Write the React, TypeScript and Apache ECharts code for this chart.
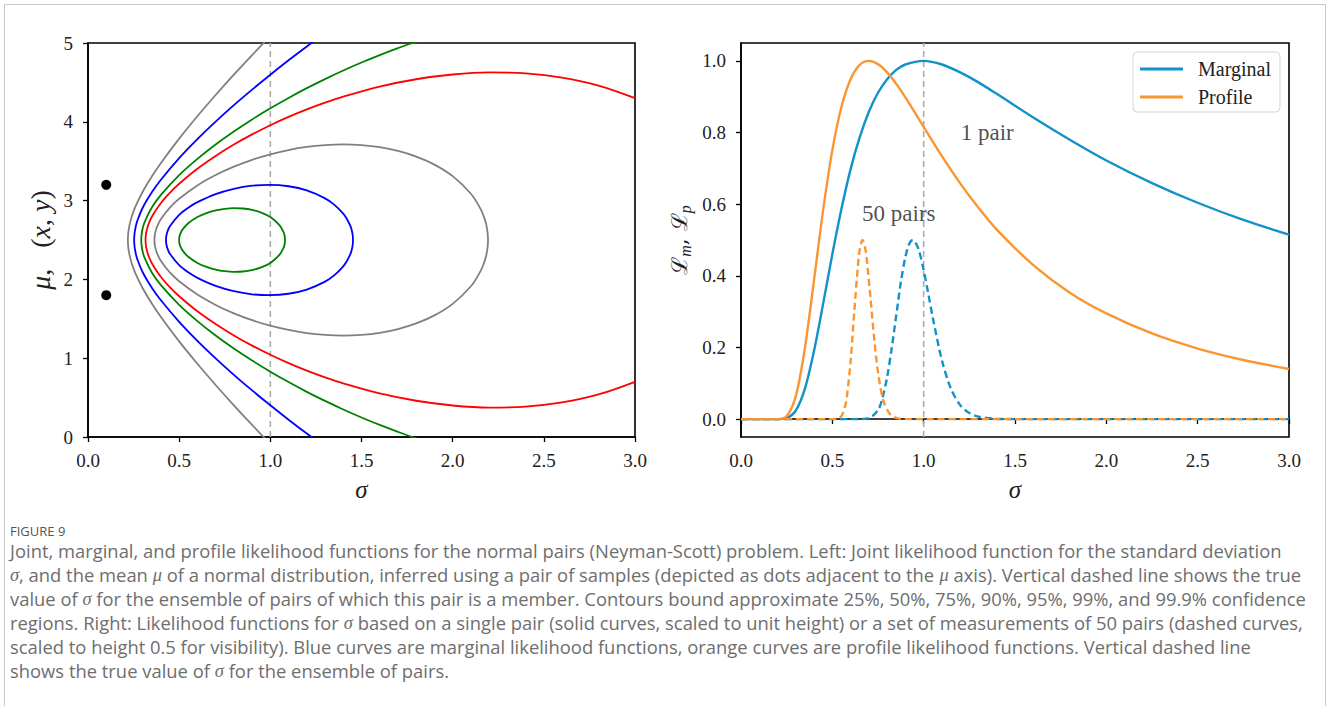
import React, { useEffect, useRef } from "react";
import * as echarts from "echarts";

// ---------- Left panel: joint likelihood contours, rows are [sigma, muUpper, muLower] ----------
const contour25: number[][] = [
  [0.4998, 2.5, 2.5], [0.5018, 2.544, 2.456], [0.5078, 2.588, 2.412], [0.52, 2.638, 2.362],
  [0.55, 2.713, 2.287], [0.6, 2.791, 2.209], [0.65, 2.842, 2.158], [0.7, 2.876, 2.124],
  [0.75, 2.896, 2.104], [0.8, 2.904, 2.096], [0.85, 2.9, 2.1], [0.9, 2.882, 2.118],
  [0.95, 2.848, 2.152], [1.0, 2.791, 2.209], [1.05, 2.689, 2.311], [1.0725, 2.6, 2.4],
  [1.0785, 2.55, 2.45], [1.0805, 2.5, 2.5],
];
const contour50: number[][] = [
  [0.4277, 2.5, 2.5], [0.4297, 2.554, 2.446], [0.4357, 2.607, 2.393], [0.45, 2.678, 2.322],
  [0.5, 2.819, 2.181], [0.55, 2.91, 2.09], [0.6, 2.98, 2.02], [0.7, 3.083, 1.917],
  [0.8, 3.15, 1.85], [0.9, 3.189, 1.811], [1.0, 3.2, 1.8], [1.1, 3.182, 1.818],
  [1.2, 3.129, 1.871], [1.3, 3.028, 1.972], [1.35, 2.949, 2.051], [1.4, 2.834, 2.166],
  [1.42, 2.767, 2.233], [1.44, 2.672, 2.328], [1.4454, 2.634, 2.366], [1.4514, 2.567, 2.433],
  [1.4534, 2.5, 2.5],
];
const contour75: number[][] = [
  [0.3643, 2.5, 2.5], [0.3663, 2.563, 2.437], [0.3723, 2.625, 2.375], [0.38, 2.676, 2.324],
  [0.4, 2.766, 2.234], [0.45, 2.915, 2.085], [0.5, 3.024, 1.976], [0.6, 3.193, 1.807],
  [0.7, 3.324, 1.676], [0.8, 3.431, 1.569], [0.9, 3.518, 1.482], [1.0, 3.588, 1.412],
  [1.1, 3.642, 1.358], [1.2, 3.681, 1.319], [1.3, 3.704, 1.296], [1.4, 3.713, 1.287],
  [1.5, 3.704, 1.296], [1.6, 3.678, 1.322], [1.7, 3.63, 1.37], [1.8, 3.559, 1.441],
  [1.9, 3.457, 1.543], [2.0, 3.31, 1.69], [2.1, 3.087, 1.913], [2.15, 2.908, 2.092],
  [2.17, 2.803, 2.197], [2.18, 2.731, 2.269], [2.1857, 2.678, 2.322], [2.1917, 2.589, 2.411],
  [2.1937, 2.5, 2.5],
];
const contour90: number[][] = [
  [0.3157, 2.5, 2.5], [0.3177, 2.57, 2.43], [0.3237, 2.64, 2.36], [0.33, 2.689, 2.311],
  [0.35, 2.795, 2.205], [0.4, 2.97, 2.03], [0.45, 3.102, 1.898], [0.5, 3.214, 1.786],
  [0.6, 3.405, 1.595], [0.7, 3.567, 1.433], [0.8, 3.711, 1.289], [0.9, 3.84, 1.16],
  [1.0, 3.957, 1.043], [1.1, 4.062, 0.938], [1.2, 4.157, 0.843], [1.3, 4.243, 0.757],
  [1.4, 4.319, 0.681], [1.6, 4.447, 0.553], [1.8, 4.54, 0.46], [2.0, 4.6, 0.4],
  [2.2, 4.626, 0.374], [2.4, 4.614, 0.386], [2.6, 4.561, 0.439], [2.8, 4.46, 0.54],
  [3.0, 4.3, 0.7],
];
const contour95: number[][] = [
  [0.2921, 2.5, 2.5], [0.2941, 2.575, 2.425], [0.3001, 2.649, 2.351], [0.31, 2.725, 2.275],
  [0.35, 2.912, 2.088], [0.4, 3.073, 1.927], [0.5, 3.323, 1.677], [0.6, 3.529, 1.471],
  [0.7, 3.712, 1.288], [0.8, 3.877, 1.123], [0.9, 4.03, 0.97], [1.0, 4.171, 0.829],
  [1.1, 4.303, 0.697], [1.2, 4.427, 0.573], [1.3, 4.542, 0.458], [1.4, 4.651, 0.349],
  [1.5, 4.752, 0.248], [1.6, 4.847, 0.153], [1.7, 4.935, 0.065], [1.8, 5.017, -0.017],
  [2.0, 5.164, -0.164],
];
const contour99: number[][] = [
  [0.2532, 2.5, 2.5], [0.2552, 2.582, 2.418], [0.2612, 2.664, 2.336], [0.27, 2.74, 2.26],
  [0.3, 2.909, 2.091], [0.35, 3.105, 1.895], [0.4, 3.265, 1.735], [0.5, 3.539, 1.461],
  [0.6, 3.78, 1.22], [0.7, 4.002, 0.998], [0.8, 4.211, 0.789], [0.9, 4.409, 0.591],
  [1.0, 4.598, 0.402], [1.1, 4.78, 0.22], [1.2, 4.956, 0.044], [1.3, 5.125, -0.125],
];
const contour999: number[][] = [
  [0.2188, 2.5, 2.5], [0.2208, 2.59, 2.41], [0.2268, 2.68, 2.32], [0.24, 2.798, 2.202],
  [0.26, 2.923, 2.077], [0.3, 3.112, 1.888], [0.35, 3.305, 1.695], [0.4, 3.477, 1.523],
  [0.5, 3.787, 1.213], [0.6, 4.071, 0.929], [0.7, 4.34, 0.66], [0.8, 4.598, 0.402],
  [0.9, 4.847, 0.153], [1.0, 5.089, -0.089],
];
const contourColors = ["#008000", "#0000ff", "#808080", "#ff0000", "#008000", "#0000ff", "#808080"];

const sampleSigma = [0.1, 0.1];
const sampleMu = [1.8, 3.2];
const trueSigma = 1;

// ---------- Right panel: likelihoods for sigma ----------
const sigmaGrid = [0, 0.1, 0.2, 0.25, 0.3, 0.35, 0.4, 0.45, 0.5, 0.55, 0.6, 0.65, 0.7, 0.75, 0.8, 0.85, 0.9, 1.0, 1.1, 1.2, 1.3, 1.4, 1.6, 1.8, 2.0, 2.25, 2.5, 2.75, 3.0];
const marginal1 = [0, 0, 0, 0.003, 0.024, 0.085, 0.191, 0.323, 0.46, 0.587, 0.698, 0.787, 0.858, 0.911, 0.949, 0.975, 0.99, 1.0, 0.99, 0.968, 0.94, 0.908, 0.842, 0.78, 0.722, 0.659, 0.604, 0.556, 0.515];
const profile1 = [0, 0, 0, 0.008, 0.064, 0.199, 0.389, 0.585, 0.751, 0.872, 0.949, 0.989, 1.0, 0.991, 0.968, 0.936, 0.898, 0.816, 0.734, 0.658, 0.59, 0.529, 0.43, 0.353, 0.295, 0.239, 0.197, 0.165, 0.14];

const sigmaMarg50 = [0, 0.6, 0.65, 0.7, 0.75, 0.775, 0.8, 0.825, 0.85, 0.875, 0.9, 0.92, 0.94, 0.97, 1.0, 1.025, 1.05, 1.1, 1.15, 1.2, 1.25, 1.3, 1.4, 1.5, 3.0];
const marginal50 = [0, 0, 0.0001, 0.0024, 0.025, 0.06, 0.117, 0.198, 0.29, 0.382, 0.453, 0.488, 0.5, 0.477, 0.416, 0.351, 0.283, 0.164, 0.084, 0.039, 0.017, 0.007, 0.001, 0, 0];
const sigmaProf50 = [0, 0.5, 0.53, 0.55, 0.57, 0.58, 0.6, 0.62, 0.64, 0.65, 0.665, 0.68, 0.69, 0.71, 0.73, 0.75, 0.78, 0.82, 0.86, 0.9, 3.0];
const profile50 = [0, 0, 0.001, 0.008, 0.036, 0.064, 0.16, 0.299, 0.428, 0.474, 0.5, 0.477, 0.439, 0.332, 0.22, 0.131, 0.05, 0.011, 0.002, 0, 0];

const yTicksRight = [0, 0.2, 0.4, 0.6, 0.8, 1.0];
const annotations = [
  { text: "1 pair", sigma: 1.2, value: 0.8 },
  { text: "50 pairs", sigma: 0.66, value: 0.575 },
];

const captionHead = "FIGURE 9";
const captionLines = [
  "Joint, marginal, and profile likelihood functions for the normal pairs (Neyman-Scott) problem. Left: Joint likelihood function for the standard deviation",
  "{i|σ}, and the mean {i|μ} of a normal distribution, inferred using a pair of samples (depicted as dots adjacent to the {i|μ} axis). Vertical dashed line shows the true",
  "value of {i|σ} for the ensemble of pairs of which this pair is a member. Contours bound approximate 25%, 50%, 75%, 90%, 95%, 99%, and 99.9% confidence",
  "regions. Right: Likelihood functions for {i|σ} based on a single pair (solid curves, scaled to unit height) or a set of measurements of 50 pairs (dashed curves,",
  "scaled to height 0.5 for visibility). Blue curves are marginal likelihood functions, orange curves are profile likelihood functions. Vertical dashed line",
  "shows the true value of {i|σ} for the ensemble of pairs.",
];

const BLUE = "#1192c8";
const ORANGE = "#fa9632";
const SERIF = "'Liberation Serif', 'DejaVu Serif', serif";
const CAPTION_FONT = "'Open Sans', Lato, sans-serif";
const CAPTION_SIZE = 18;
const CAPTION_STRETCH = 1.022;

function contourPath(rows: number[][], closed: boolean): number[][] {
  const upper = rows.map((r) => [r[0], r[1]]);
  const lower = rows.map((r) => [r[0], r[2]]);
  if (closed) {
    return [...upper, ...lower.slice(0, -1).reverse()];
  }
  return [...lower.slice().reverse(), ...upper.slice(1)];
}

export default function App() {
  const ref = useRef<HTMLDivElement>(null);
  useEffect(() => {
    if (!ref.current) return;
    const chart = echarts.init(ref.current, undefined, { renderer: "svg" });

    const axisLine = { show: true, lineStyle: { color: "#000", width: 1.6 } };
    const axisTick = { show: true, length: 5, inside: false, lineStyle: { color: "#000", width: 1.3 } };
    const xTickLabel = { fontFamily: SERIF, fontSize: 19, color: "#222", margin: 14 };
    const yTickLabel = { fontFamily: SERIF, fontSize: 19, color: "#222", margin: 15 };
    const axisTitle = { fontFamily: SERIF, fontStyle: "italic", fontSize: 25, color: "#222" };

    const contours = [contour25, contour50, contour75, contour90, contour95, contour99, contour999];
    const contourSeries = contours.map((rows, i) => ({
      type: "line",
      name: "contour" + i,
      xAxisIndex: 0,
      yAxisIndex: 0,
      data: contourPath(rows, i < 3),
      showSymbol: false,
      smooth: 0.35,
      clip: true,
      silent: true,
      z: 3,
      lineStyle: { color: contourColors[i], width: 1.8 },
    }));

    const option: any = {
      animation: false,
      backgroundColor: "#fff",
      grid: [
        { left: 88, top: 43, width: 547, height: 394, show: true, borderColor: "#000", borderWidth: 1.6, backgroundColor: "transparent" },
        { left: 741, top: 43, width: 548, height: 394, show: true, borderColor: "#000", borderWidth: 1.6, backgroundColor: "transparent" },
      ],
      xAxis: [
        {
          type: "value", gridIndex: 0, min: 0, max: 3, interval: 0.5,
          axisLine, axisTick, splitLine: { show: false },
          axisLabel: { ...xTickLabel, formatter: (v: number) => v.toFixed(1) },
          name: "σ", nameLocation: "middle", nameGap: 40, nameTextStyle: axisTitle,
        },
        {
          type: "value", gridIndex: 1, min: 0, max: 3, interval: 0.5,
          axisLine, axisTick, splitLine: { show: false },
          axisLabel: { ...xTickLabel, formatter: (v: number) => v.toFixed(1) },
          name: "σ", nameLocation: "middle", nameGap: 40, nameTextStyle: axisTitle,
        },
      ],
      yAxis: [
        {
          type: "value", gridIndex: 0, min: 0, max: 5, interval: 1,
          axisLine, axisTick, splitLine: { show: false },
          axisLabel: { ...yTickLabel, formatter: (v: number) => String(v) },
          name: "{i|μ},   ({i|x}, {i|y})", nameLocation: "middle", nameGap: 34,
          nameTextStyle: {
            fontFamily: SERIF, fontSize: 28, color: "#222",
            rich: { i: { fontFamily: SERIF, fontStyle: "italic", fontSize: 28, color: "#222" } },
          },
        },
        {
          type: "value", gridIndex: 1, min: -0.05, max: 1.05,
          axisLine, splitLine: { show: false },
          axisTick: { ...axisTick, customValues: yTicksRight },
          axisLabel: { ...yTickLabel, customValues: yTicksRight, formatter: (v: number) => v.toFixed(1) },
          name: "{L|ℒ}{s|m}{L|, ℒ}{s|p}", nameLocation: "middle", nameGap: 48,
          nameTextStyle: {
            fontFamily: "'DejaVu Serif', serif", fontSize: 22, color: "#222",
            rich: {
              L: { fontFamily: "'DejaVu Serif', serif", fontSize: 22, color: "#222", lineHeight: 28 },
              s: { fontFamily: SERIF, fontStyle: "italic", fontSize: 16, color: "#222", verticalAlign: "bottom", lineHeight: 20 },
            },
          },
        },
      ],
      legend: {
        show: true,
        data: ["Marginal", "Profile"],
        orient: "vertical",
        left: 1133,
        top: 52,
        padding: [7, 9, 5, 7],
        itemGap: 8,
        itemWidth: 43,
        itemHeight: 3,
        icon: "rect",
        borderColor: "#d6d6d6",
        borderWidth: 1,
        borderRadius: 4,
        backgroundColor: "#fff",
        textStyle: { fontFamily: SERIF, fontSize: 20, color: "#222", padding: [0, 0, 0, 10] },
      },
      graphic: [
        {
          type: "rect", silent: true,
          shape: { x: 4.5, y: 4.5, width: 1321, height: 760 },
          style: { fill: "none", stroke: "#c8c8c8", lineWidth: 1 },
        },
        {
          type: "text", x: 10, y: 531,
          style: { text: captionHead, fontFamily: CAPTION_FONT, fontSize: 13, fontWeight: 500, fill: "#555", verticalAlign: "middle" },
        },
        ...captionLines.map((line, i) => ({
          type: "text", x: 10, y: 551 + i * 24, scaleX: CAPTION_STRETCH,
          style: {
            text: line, fontFamily: CAPTION_FONT, fontSize: CAPTION_SIZE, fill: "#6e6e6e", verticalAlign: "middle",
            rich: { i: { fontFamily: SERIF, fontStyle: "italic", fontSize: CAPTION_SIZE, fill: "#6e6e6e" } },
          },
        })),
      ],
      series: [
        {
          type: "line", name: "trueSigmaLeft", xAxisIndex: 0, yAxisIndex: 0,
          data: [[trueSigma, 0], [trueSigma, 5]], showSymbol: false, silent: true, z: 2,
          lineStyle: { color: "#aaaaaa", width: 1.6, type: [6, 4] },
        },
        ...contourSeries,
        {
          type: "scatter", name: "samples", xAxisIndex: 0, yAxisIndex: 0,
          data: sampleSigma.map((s, i) => [s, sampleMu[i]]),
          symbolSize: 10, itemStyle: { color: "#000", opacity: 1 }, silent: true, z: 4,
        },
        {
          type: "line", name: "trueSigmaRight", xAxisIndex: 1, yAxisIndex: 1,
          data: [[trueSigma, -0.05], [trueSigma, 1.05]], showSymbol: false, silent: true, z: 2,
          lineStyle: { color: "#aaaaaa", width: 1.6, type: [6, 4] },
        },
        {
          type: "line", name: "Marginal", xAxisIndex: 1, yAxisIndex: 1,
          data: sigmaGrid.map((s, i) => [s, marginal1[i]]),
          showSymbol: false, smooth: 0.3, z: 3,
          itemStyle: { color: BLUE }, lineStyle: { color: BLUE, width: 2.4 },
        },
        {
          type: "line", name: "Profile", xAxisIndex: 1, yAxisIndex: 1,
          data: sigmaGrid.map((s, i) => [s, profile1[i]]),
          showSymbol: false, smooth: 0.3, z: 3,
          itemStyle: { color: ORANGE }, lineStyle: { color: ORANGE, width: 2.4 },
        },
        {
          type: "line", name: "Marginal (50 pairs)", xAxisIndex: 1, yAxisIndex: 1,
          data: sigmaMarg50.map((s, i) => [s, marginal50[i]]),
          showSymbol: false, smooth: 0.3, z: 3,
          itemStyle: { color: BLUE }, lineStyle: { color: BLUE, width: 2.4, type: [7, 4] },
        },
        {
          type: "line", name: "Profile (50 pairs)", xAxisIndex: 1, yAxisIndex: 1,
          data: sigmaProf50.map((s, i) => [s, profile50[i]]),
          showSymbol: false, smooth: 0.3, z: 3,
          itemStyle: { color: ORANGE }, lineStyle: { color: ORANGE, width: 2.4, type: [7, 4] },
        },
        {
          type: "scatter", name: "annotations", xAxisIndex: 1, yAxisIndex: 1,
          data: annotations.map((a) => ({ value: [a.sigma, a.value], label: { formatter: a.text } })),
          symbolSize: 1, itemStyle: { color: "rgba(0,0,0,0)" }, silent: true, z: 5,
          label: { show: true, position: "right", distance: 0, fontFamily: SERIF, fontSize: 23, color: "#222" },
        },
      ],
    };
    chart.setOption(option);
    return () => chart.dispose();
  }, []);
  return (
    <div
      ref={ref}
      style={{ position: "absolute", left: 0, top: 0, width: 1330, height: 706, background: "#fff" }}
    />
  );
}
